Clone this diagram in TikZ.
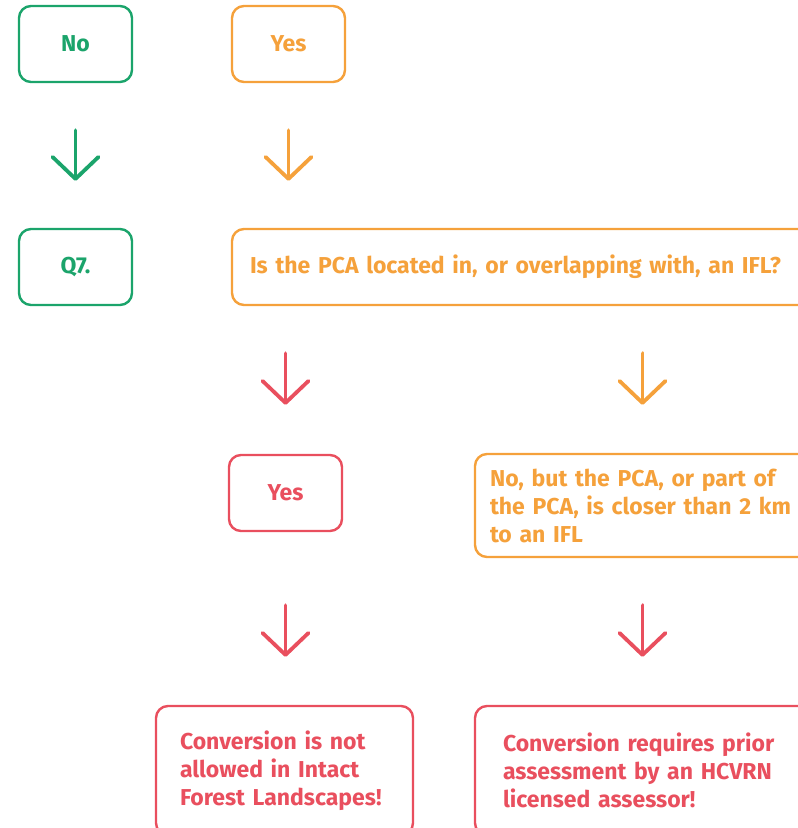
\documentclass[tikz,border=0pt]{standalone}
\usepackage{fontspec}
\setmainfont{Fira Sans}
\usetikzlibrary{arrows.meta}
\definecolor{hcgreen}{HTML}{1BA46B}
\definecolor{hcorange}{HTML}{F5A13B}
\definecolor{hcred}{HTML}{E94F5E}
\tikzset{
  flowbox/.style={draw, line width=2.4pt, rounded corners=12pt, fill=white,
    font=\fontsize{23}{28}\selectfont\bfseries, inner sep=0pt},
  smallbox/.style={flowbox, minimum width=113pt, minimum height=76pt},
  downarrow/.style={line width=3.8pt, line cap=round,
    -{Straight Barb[length=22pt,width=46pt,line width=3.8pt,round]}},
}
\begin{document}
\begin{tikzpicture}[x=1pt,y=-1pt]
\useasboundingbox (0,0) rectangle (798,828);
\clip (0,0) rectangle (798,828);

% first row: answers
\node[smallbox, draw=hcgreen, text=hcgreen] (no) at (75.5,44) {No};
\node[smallbox, draw=hcorange, text=hcorange] (yes) at (288.5,44) {Yes};

% second row: next question
\node[smallbox, draw=hcgreen, text=hcgreen] (q7) at (75.5,267) {Q7.};
\node[flowbox, draw=hcorange, text=hcorange, minimum height=76pt,
      text width=560pt, inner xsep=18pt, align=left] (ifl) at (530,267)
      {Is the PCA located in, or overlapping with, an IFL?};

% third row: answers to the IFL question
\node[smallbox, draw=hcred, text=hcred] (ryes) at (285.5,493) {Yes};
\node[flowbox, draw=hcorange, text=hcorange, minimum height=103pt,
      text width=305pt, inner xsep=15pt, align=left] (near) at (642.5,505.5)
      {No, but the PCA, or part of\\the PCA, is closer than 2 km\\to an IFL};

% outcomes
\node[flowbox, draw=hcred, text=hcred, minimum height=129pt,
      text width=209pt, inner xsep=24pt, align=left] (notallowed) at (284.5,770.5)
      {Conversion is not\\allowed in Intact\\Forest Landscapes!};
\node[flowbox, draw=hcred, text=hcred, minimum height=129pt,
      text width=279pt, inner xsep=28pt, align=left] (assess) at (642.5,770.5)
      {Conversion requires prior\\assessment by an HCVRN\\licensed assessor!};

% connectors
\draw[downarrow, draw=hcgreen, shorten <=47pt, shorten >=47pt]
  (no.south) -- (q7.north);
\draw[downarrow, draw=hcorange, shorten <=47pt, shorten >=47pt]
  (yes.south) -- (yes.south |- ifl.north);
\draw[downarrow, draw=hcred, shorten <=47pt, shorten >=49pt]
  (ryes.north |- ifl.south) -- (ryes.north);
\draw[downarrow, draw=hcorange, shorten <=47pt, shorten >=48pt]
  (near.north |- ifl.south) -- (near.north);
\draw[downarrow, draw=hcred, shorten <=73pt, shorten >=48pt]
  (ryes.south) -- (ryes.south |- notallowed.north);
\draw[downarrow, draw=hcred, shorten <=47pt, shorten >=48pt]
  (near.south) -- (assess.north);
\end{tikzpicture}
\end{document}
